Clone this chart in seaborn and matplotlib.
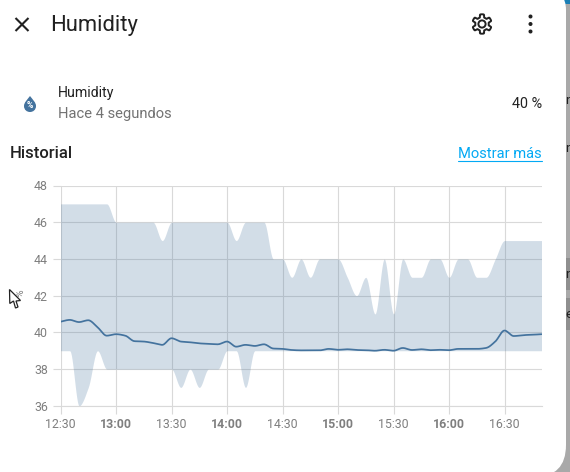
import matplotlib
matplotlib.use('Agg')
import matplotlib.pyplot as plt
import numpy as np
import pandas as pd
import seaborn as sns
from matplotlib.patches import Circle, FancyBboxPatch, PathPatch, Polygon, Rectangle
from matplotlib.path import Path

W, H = 570, 472
BLUE = '#44739e'
GREY = '#7f7f7f'
GRID = '#d9d9d9'

# minutes after 12:30, one sample every 5 minutes
minutes = list(range(0, 265, 5))
mean_vals = [
    40.58, 40.68, 40.56, 40.66, 40.28, 39.82, 39.90, 39.82, 39.52, 39.50, 39.42,
    39.32, 39.68, 39.50, 39.46, 39.40, 39.38, 39.35, 39.50, 39.22, 39.32, 39.26,
    39.35, 39.12, 39.10, 39.04, 39.02, 39.02, 39.02, 39.10, 39.05, 39.08, 39.04,
    39.03, 39.00, 39.05, 39.00, 39.15, 39.04, 39.08, 39.03, 39.05, 39.03, 39.10,
    39.10, 39.10, 39.15, 39.50, 40.10, 39.80, 39.85, 39.87, 39.90,
]
max_vals = [
    47, 47, 47, 47, 47, 47, 46, 46, 46, 46, 46, 45, 46, 46, 46, 46, 46, 46, 46, 45,
    46, 46, 46, 44, 44, 43, 44, 43, 44, 44, 44, 43, 42, 43, 41, 44, 41, 44, 43, 43,
    44, 44, 43, 44, 44, 43, 43, 44, 45, 45, 45, 45, 45,
]
min_vals = [
    39, 39, 36, 37, 39, 38, 38, 38, 38, 38, 38, 38, 38, 37, 38, 37, 38, 38, 39, 39,
    37, 39, 39, 39, 39, 39, 39, 39, 39, 39, 39, 39, 39, 39, 39, 39, 39, 39, 39, 39,
    39, 39, 39, 39, 39, 39, 39, 39, 39, 39, 39, 39, 39,
]
y_ticks = [36, 38, 40, 42, 44, 46, 48]
x_ticks = [0, 30, 60, 90, 120, 150, 180, 210, 240]
x_labels = ['12:30', '13:00', '13:30', '14:00', '14:30', '15:00', '15:30', '16:00', '16:30']
hours = ['13:00', '14:00', '15:00', '16:00']


def monotone(x, y, n=12):
    # same look as the chart's monotone line mode, used to draw the band and line
    x, y = np.asarray(x, float), np.asarray(y, float)
    h = np.diff(x)
    d = np.diff(y) / h
    m = np.zeros(len(x))
    m[0], m[-1] = d[0], d[-1]
    for i in range(1, len(x) - 1):
        if d[i - 1] * d[i] > 0:
            m[i] = 2 * d[i - 1] * d[i] / (d[i - 1] + d[i])
    xs, ys = [], []
    for i in range(len(h)):
        t = np.linspace(0, 1, n, endpoint=False)
        xs.append(x[i] + t * h[i])
        ys.append((2*t**3 - 3*t**2 + 1) * y[i] + (t**3 - 2*t**2 + t) * h[i] * m[i]
                  + (-2*t**3 + 3*t**2) * y[i + 1] + (t**3 - t**2) * h[i] * m[i + 1])
    return np.append(np.concatenate(xs), x[-1]), np.append(np.concatenate(ys), y[-1])


sns.set_theme(style='white')
plt.rcParams['font.family'] = ['Roboto', 'DejaVu Sans']

fig = plt.figure(figsize=(W / 100, H / 100), dpi=100)

# page behind the dialog and the dialog itself, in pixels
ui = fig.add_axes([0, 0, 1, 1])
ui.set_xlim(0, W)
ui.set_ylim(H, 0)
ui.axis('off')
ui.add_patch(Rectangle((0, 0), W, H, color='#a9a9a9', lw=0))
ui.add_patch(Rectangle((561, 0), 9, 4, color='#1b7fb5', lw=0))
ui.add_patch(Rectangle((566, 258), 4, 32, color='#8f8f8f', lw=0))
ui.add_patch(Rectangle((566, 298), 4, 32, color='#8f8f8f', lw=0))
ui.add_patch(FancyBboxPatch((-40, -10), 606, 310, boxstyle='round,pad=0,rounding_size=20',
                            fc='white', ec='none'))
ui.add_patch(FancyBboxPatch((-40, 200), 606, 277, boxstyle='round,pad=0,rounding_size=32',
                            fc='white', ec='none'))
for y, s in [(101, 'n'), (149, 'n'), (275, 'n'), (315, 'e')]:
    ui.text(565, y, s, fontsize=9.5, color='#222222', va='center', ha='left')

ui.text(50, 25, 'Humidity', fontsize=15.8, color='#212121', va='center')
ui.text(58, 93.5, 'Humidity', fontsize=10.2, color='#212121', va='center')
ui.text(58, 114, 'Hace 4 segundos', fontsize=10.6, color='#727272', va='center')
ui.text(542, 104, '40 %', fontsize=10.4, color='#212121', va='center', ha='right')
ui.text(10, 154, 'Historial', fontsize=12, color='#212121', va='center', weight='medium')
ui.text(542, 154.5, 'Mostrar más', fontsize=10.6, color='#03a9f4', va='center', ha='right')
ui.plot([458, 542], [160.5, 160.5], color='#03a9f4', lw=0.8)

# close icon
ui.plot([15.5, 28.5], [18, 31], color='#212121', lw=1.5, solid_capstyle='butt')
ui.plot([15.5, 28.5], [31, 18], color='#212121', lw=1.5, solid_capstyle='butt')

# gear icon
ang = np.linspace(0, 2 * np.pi, 144, endpoint=False)
rad = 8.2 + 1.5 * np.clip(np.cos(6 * ang) * 3, -1, 1)
ui.add_patch(Polygon(np.c_[482 + rad * np.sin(ang), 24 + rad * np.cos(ang)],
                     fc='none', ec='#212121', lw=1.4, joinstyle='round'))
ui.add_patch(Circle((482, 24), 3.6, fc='none', ec='#212121', lw=1.4))

# menu dots
for y in [16.5, 24, 31.5]:
    ui.add_patch(Circle((530.5, y), 2, fc='#212121', ec='none'))

# humidity drop icon
drop = Path([(30, 96), (33, 100), (36, 102.5), (36, 106), (36, 110), (33, 112), (30, 112),
             (27, 112), (24, 110), (24, 106), (24, 102.5), (27, 100), (30, 96)],
            [Path.MOVETO] + [Path.CURVE4] * 12)
ui.add_patch(PathPatch(drop, fc=BLUE, ec='none'))
ui.text(30, 106, '%', fontsize=6.2, color='white', weight='bold', ha='center', va='center')

# chart
left, right, top, bottom = 60.5, 541.5, 185.5, 405.8
ax = fig.add_axes([left / W, 1 - bottom / H, (right - left) / W, (bottom - top) / H])
ax.patch.set_alpha(0)

bx, by_max = monotone(minutes, max_vals)
_, by_min = monotone(minutes, min_vals)
ax.fill_between(bx, by_min, by_max, color=BLUE, alpha=0.24, lw=0, zorder=2)

lx, ly = monotone(minutes, mean_vals)
df = pd.DataFrame({'minute': lx, 'humidity': ly})
sns.lineplot(data=df, x='minute', y='humidity', color=BLUE, lw=1.25, ax=ax, zorder=3)

ax.set_xlim(0, 260)
ax.set_ylim(36, 48)
ax.set_xticks(x_ticks)
ax.set_xticklabels(x_labels)
ax.set_yticks(y_ticks)
ax.grid(True, color=GRID, lw=0.8, zorder=1)
ax.set_axisbelow(True)
ax.tick_params(axis='both', length=6, width=0.8, color=GRID, labelcolor=GREY,
               labelsize=8.9, pad=3, bottom=True, left=True)
for t in ax.get_xticklabels():
    if t.get_text() in hours:
        t.set_fontweight('bold')
ax.set_xlabel('')
ax.set_ylabel('%', fontsize=7.5, color=GREY)
ax.yaxis.set_label_coords((25 - left) / (right - left), 0.51)
sns.despine(ax=ax, top=True, right=True, left=True, bottom=False)
ax.spines['bottom'].set_color(GRID)
ax.spines['bottom'].set_linewidth(0.8)

# mouse pointer lying over the axis label
over = fig.add_axes([0, 0, 1, 1])
over.set_xlim(0, W)
over.set_ylim(H, 0)
over.axis('off')
over.patch.set_alpha(0)
over.add_patch(Polygon([(9.5, 289.5), (9.8, 303.5), (13.5, 301), (15.5, 308), (18, 307), (16, 301),
                        (20.5, 300.5)], fc='white', ec='#222222', lw=0.9, joinstyle='miter'))

fig.savefig('out.png', dpi=100)
